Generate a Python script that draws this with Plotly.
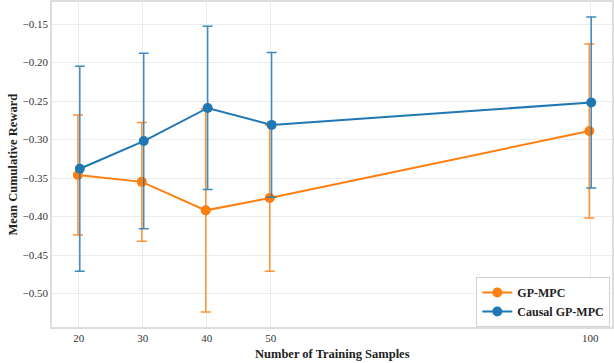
import plotly.graph_objects as go

samples = [20, 30, 40, 50, 100]
gp_mean = [-0.346, -0.355, -0.392, -0.376, -0.289]
gp_err = [0.078, 0.077, 0.132, 0.095, 0.113]
causal_mean = [-0.338, -0.302, -0.259, -0.281, -0.252]
causal_err = [0.133, 0.114, 0.106, 0.094, 0.111]

ORANGE = "#ff7f0e"
BLUE = "#1f77b4"
FONT = "Liberation Serif"

fig = go.Figure()
fig.add_trace(go.Scatter(
    x=[s - 0.15 for s in samples], y=gp_mean, name="<b>GP-MPC</b>", mode="lines+markers",
    line=dict(color=ORANGE, width=2), marker=dict(color=ORANGE, size=10),
    error_y=dict(type="data", array=gp_err, visible=True, color="rgba(255,127,14,0.85)", thickness=1.5, width=5),
))
fig.add_trace(go.Scatter(
    x=[s + 0.15 for s in samples], y=causal_mean, name="<b>Causal GP-MPC</b>", mode="lines+markers",
    line=dict(color=BLUE, width=2), marker=dict(color=BLUE, size=10),
    error_y=dict(type="data", array=causal_err, visible=True, color="rgba(31,119,180,0.85)", thickness=1.5, width=5),
))

fig.update_layout(
    width=614, height=363,
    margin=dict(l=52, r=2, t=2, b=36, autoexpand=False),
    paper_bgcolor="white", plot_bgcolor="white",
    font=dict(family=FONT, size=11, color="#333"),
    legend=dict(
        x=0.997, y=0.0, xanchor="right", yanchor="bottom",
        bordercolor="#d0d0d0", borderwidth=1, bgcolor="rgba(255,255,255,0.9)",
        font=dict(family=FONT, size=12, color="#222"),
        tracegroupgap=0, itemwidth=30,
    ),
    showlegend=True,
    annotations=[
        dict(text="<b>Number of Training Samples</b>", x=0.5, y=0, xref="paper", yref="paper",
             xanchor="center", yanchor="top", yshift=-18, showarrow=False,
             font=dict(family=FONT, size=12.5, color="#222")),
        dict(text="<b>Mean Cumulative Reward</b>", x=0, y=0.5, xref="paper", yref="paper",
             xanchor="center", yanchor="middle", xshift=-40, textangle=-90, showarrow=False,
             font=dict(family=FONT, size=12.5, color="#222")),
    ],
)
fig.update_xaxes(
    range=[15.8, 103.4], tickvals=samples, ticktext=[str(s) for s in samples],
    showgrid=True, gridcolor="#ebebeb", gridwidth=1, automargin=False,
    showline=True, linecolor="#dddddd", linewidth=1.5, mirror=True,
    zeroline=False, ticks="", tickfont=dict(family=FONT, size=11, color="#333"),
)
fig.update_yaxes(
    range=[-0.5435, -0.1214], tickvals=[-0.50, -0.45, -0.40, -0.35, -0.30, -0.25, -0.20, -0.15],
    tickformat=".2f", automargin=False,
    showgrid=True, gridcolor="#ebebeb", gridwidth=1,
    showline=True, linecolor="#dddddd", linewidth=1.5, mirror=True,
    zeroline=False, ticks="", tickfont=dict(family=FONT, size=11, color="#333"),
)

fig.write_html("out.html", config={"displayModeBar": False},
               post_script="document.body.style.margin='0';document.body.style.padding='0';")
